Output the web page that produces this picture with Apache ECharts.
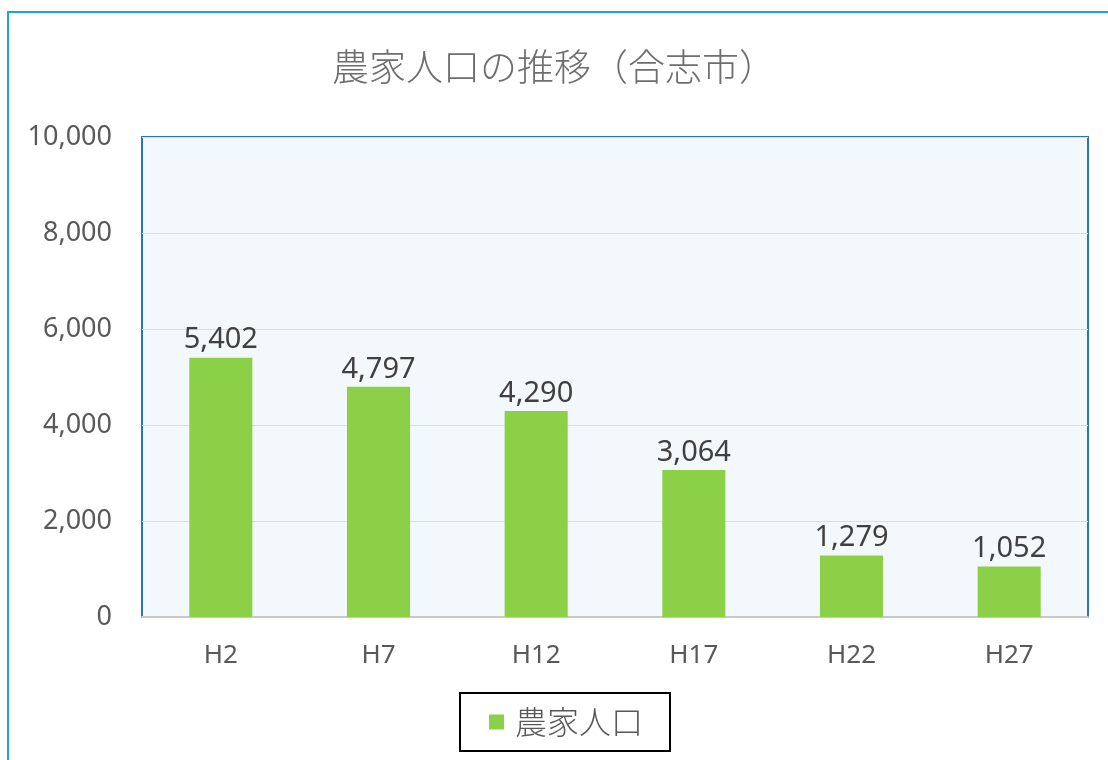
<!DOCTYPE html>
<html>
<head>
<meta charset="utf-8">
<script src="https://cdn.jsdelivr.net/npm/echarts@6/dist/echarts.min.js"></script>
<style>
    html, body { margin: 0; padding: 0; background: #fff; }
    #chart { width: 1108px; height: 760px; }
</style>
</head>
<body>
<div id="chart"></div>
<script>
    // 農家人口（合志市）
    let categories = ['H2', 'H7', 'H12', 'H17', 'H22', 'H27']
    let farmPopulation = [5402, 4797, 4290, 3064, 1279, 1052]
    let seriesName = '農家人口'
    let titleText = '農家人口の推移（合志市）'

    let myChart = echarts.init(document.getElementById('chart'))
    let latin = '"Noto Sans", "Noto Sans CJK JP", sans-serif'
    let cjk = '"Noto Sans CJK JP", sans-serif'

    let option = {
        animation: false,
        backgroundColor: '#fff',
        title: {
            text: titleText,
            left: 'center',
            top: 43,
            textStyle: {
                fontFamily: cjk,
                fontSize: 37,
                fontWeight: 300,
                color: '#6e6e6e'
            }
        },
        graphic: [{
            type: 'polyline',
            shape: { points: [[8, 760], [8, 12], [1108, 12]] },
            style: { stroke: '#16a9e1', lineWidth: 2, fill: null },
            silent: true
        }],
        legend: {
            data: [seriesName],
            left: 460,
            top: 693,
            icon: 'rect',
            itemWidth: 15,
            itemHeight: 15,
            itemGap: 10,
            itemStyle: { borderWidth: 0 },
            padding: [13, 27, 13, 29],
            borderColor: '#000',
            borderWidth: 2,
            textStyle: {
                fontFamily: cjk,
                fontSize: 32,
                fontWeight: 300,
                color: '#595959',
                padding: [0, 0, 0, 6]
            }
        },
        grid: {
            show: true,
            left: 142,
            right: 20,
            top: 137,
            bottom: 143,
            backgroundColor: '#f3f8fd',
            borderColor: '#2e75b6',
            borderWidth: 2
        },
        xAxis: {
            type: 'category',
            data: categories,
            axisTick: { show: false },
            axisLine: {
                lineStyle: { color: '#c8c8c8', width: 2 }
            },
            axisLabel: {
                margin: 26,
                fontFamily: latin,
                fontSize: 26,
                color: '#595959'
            }
        },
        yAxis: {
            type: 'value',
            min: 0,
            max: 10000,
            interval: 2000,
            axisLine: { show: false },
            axisTick: { show: false },
            splitLine: {
                lineStyle: { color: '#d9dee4', width: 1 }
            },
            axisLabel: {
                margin: 30,
                fontFamily: latin,
                fontSize: 27,
                color: '#595959',
                formatter: function (v) {
                    return v.toLocaleString('en-US')
                }
            }
        },
        series: [{
            name: seriesName,
            type: 'bar',
            data: farmPopulation,
            barWidth: '40%',
            itemStyle: { color: '#8cd048' },
            label: {
                show: true,
                position: 'top',
                distance: 3,
                fontFamily: latin,
                fontSize: 29,
                color: '#404040',
                formatter: function (p) {
                    return p.value.toLocaleString('en-US')
                }
            }
        }]
    }
    myChart.setOption(option)
</script>
</body>
</html>
